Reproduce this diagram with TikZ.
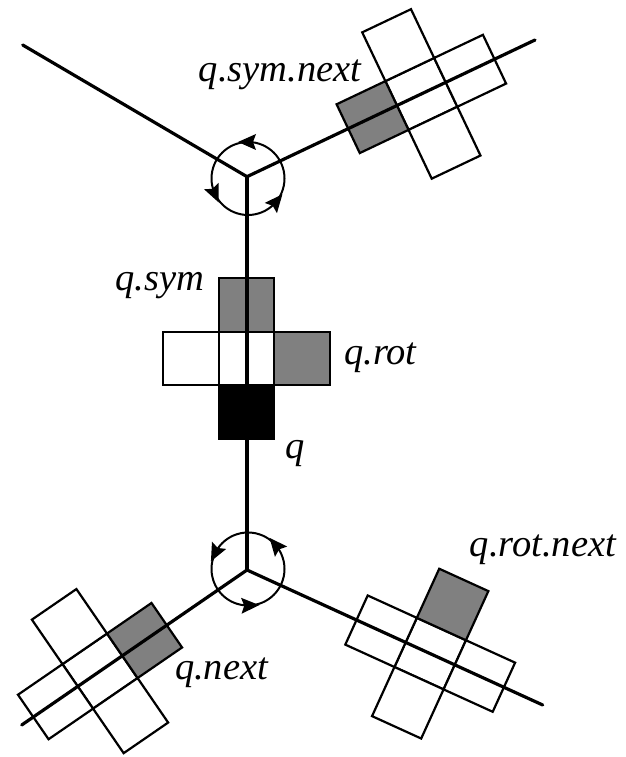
\documentclass[tikz,border=0pt]{standalone}
\usepackage{fontspec}
\newfontfamily\lblfont{Liberation Serif Italic}
\usetikzlibrary{calc}
\begin{document}
\begin{tikzpicture}[x=1pt,y=1pt,
  edge/.style={line width=3.2pt, line cap=round},
  cellbox/.style={draw=black, line width=2.2pt, line join=miter},
  ring/.style={line width=2pt},
  lbl/.style={inner sep=0pt, anchor=base, font=\fontsize{38.5}{42}\selectfont\lblfont}]
\useasboundingbox (0,0) rectangle (625,757);
\newcommand\ringtip[2]{%
  \fill[shift={($(#1)+(#2:36.5)$)}, rotate=#2+90] (10,0) -- (-8,8) -- (-5,0) -- (-8,-8) -- cycle;}
% vertices and free ends
\coordinate (vt) at (247,580.3);
\coordinate (vb) at (247,187);
\coordinate (tl) at (22.7,712);
\coordinate (tr) at (535,717);
\coordinate (bl) at (21.7,32);
\coordinate (br) at (542.7,52);
\coordinate (cq) at (246.5,398.5);
\coordinate (ctr) at ($(vt)!193pt!(tr)$);
\coordinate (cbl) at ($(vb)!178.4pt!(bl)$);
\coordinate (cbr) at ($(vb)!201.4pt!(br)$);
\coordinate (rt) at (248,578.5);
\coordinate (rb) at (248,188);
% central cross
\begin{scope}[shift={(cq)}]
  \draw[cellbox, fill=white] (-27.75,-26.75) rectangle (27.75,26.75);
  \draw[cellbox, fill=gray] (-27.75,26.75) rectangle (27.75,80.25);
  \draw[cellbox, fill=black] (-27.75,-80.25) rectangle (27.75,-26.75);
  \draw[cellbox, fill=white] (-83.25,-26.75) rectangle (-27.75,26.75);
  \draw[cellbox, fill=gray] (27.75,-26.75) rectangle (83.25,26.75);
\end{scope}
% top-right cross (q.sym.next)
\begin{scope}[shift={(ctr)}, rotate=25.4]
  \draw[cellbox, fill=white] (-27,-27) rectangle (27,27);
  \draw[cellbox, fill=gray] (-81,-27) rectangle (-27,27);
  \draw[cellbox, fill=white] (27,-27) rectangle (81,27);
  \draw[cellbox, fill=white] (-27,27) rectangle (27,81);
  \draw[cellbox, fill=white] (-27,-81) rectangle (27,-27);
\end{scope}
% bottom-left cross (q.next)
\begin{scope}[shift={(cbl)}, rotate=214.5]
  \draw[cellbox, fill=white] (-27,-27) rectangle (27,27);
  \draw[cellbox, fill=gray] (-81,-27) rectangle (-27,27);
  \draw[cellbox, fill=white] (27,-27) rectangle (81,27);
  \draw[cellbox, fill=white] (-27,27) rectangle (27,81);
  \draw[cellbox, fill=white] (-27,-81) rectangle (27,-27);
\end{scope}
% bottom-right cross (q.rot.next)
\begin{scope}[shift={(cbr)}, rotate=-24.5]
  \draw[cellbox, fill=white] (-27,-27) rectangle (27,27);
  \draw[cellbox, fill=white] (-81,-27) rectangle (-27,27);
  \draw[cellbox, fill=white] (27,-27) rectangle (81,27);
  \draw[cellbox, fill=gray] (-27,27) rectangle (27,81);
  \draw[cellbox, fill=white] (-27,-81) rectangle (27,-27);
\end{scope}
% edges
\draw[edge] (vt) -- (vb);
\draw[edge] (vt) -- (tl);
\draw[edge] (vt) -- (tr);
\draw[edge] (vb) -- (bl);
\draw[edge] (vb) -- (br);
% rings with arrows
\draw[ring] (rt) circle[radius=36.5];
\ringtip{rt}{90}
\ringtip{rt}{204}
\ringtip{rt}{320}
\draw[ring] (rb) circle[radius=36.5];
\ringtip{rb}{40}
\ringtip{rb}{153}
\ringtip{rb}{272}
% labels
\node[lbl] (lsymnext) at (280,675) {q.sym.next};
\node[lbl] (lsym) at (160,466) {q.sym};
\node[lbl] (lrot) at (380.5,392) {q.rot};
\node[lbl] (lq) at (295,298) {q};
\node[lbl] (lnext) at (221.5,77) {q.next};
\node[lbl] (lrotnext) at (543,200) {q.rot.next};
\end{tikzpicture}
\end{document}
